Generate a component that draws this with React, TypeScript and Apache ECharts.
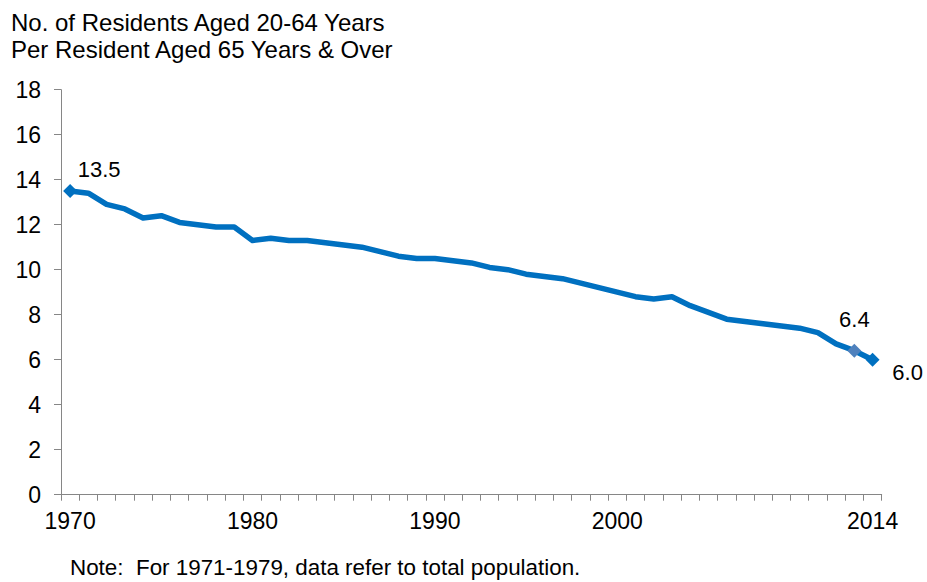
import React, { useEffect, useRef } from "react";
import * as echarts from "echarts";

const years: string[] = [
  "1970", "1971", "1972", "1973", "1974", "1975", "1976", "1977", "1978", "1979",
  "1980", "1981", "1982", "1983", "1984", "1985", "1986", "1987", "1988", "1989",
  "1990", "1991", "1992", "1993", "1994", "1995", "1996", "1997", "1998", "1999",
  "2000", "2001", "2002", "2003", "2004", "2005", "2006", "2007", "2008", "2009",
  "2010", "2011", "2012", "2013", "2014",
];

const supportRatio: number[] = [
  13.5, 13.4, 12.9, 12.7, 12.3, 12.4, 12.1, 12.0, 11.9, 11.9,
  11.3, 11.4, 11.3, 11.3, 11.2, 11.1, 11.0, 10.8, 10.6, 10.5,
  10.5, 10.4, 10.3, 10.1, 10.0, 9.8, 9.7, 9.6, 9.4, 9.2,
  9.0, 8.8, 8.7, 8.8, 8.4, 8.1, 7.8, 7.7, 7.6, 7.5,
  7.4, 7.2, 6.7, 6.4, 6.0,
];

const xLabelYears: string[] = ["1970", "1980", "1990", "2000", "2014"];
const labelledYears: string[] = ["1970", "2013", "2014"];

const yMin = 0;
const yMax = 18;
const yInterval = 2;

const titleLines: string[] = [
  "No. of Residents Aged 20-64 Years",
  "Per Resident Aged 65 Years & Over",
];
const noteText = "Note:  For 1971-1979, data refer to total population.";

const FONT = '"Liberation Sans", Arial, Helvetica, sans-serif';
const LINE_COLOR = "#0070C0";
const AXIS_COLOR = "#868686";

export default function App() {
  const ref = useRef<HTMLDivElement>(null);

  useEffect(() => {
    document.body.style.margin = "0";
    if (!ref.current) return;
    const chart = echarts.init(ref.current, null, { renderer: "svg" });

    const labelStyles: Record<string, any> = {
      "1970": { offset: [29, -21], color: LINE_COLOR },
      "2013": { offset: [0, -31], color: "#4F81BD" },
      "2014": { offset: [35, 13], color: LINE_COLOR },
    };

    const seriesData = supportRatio.map((v, i) => {
      const yr = years[i];
      if (labelledYears.indexOf(yr) >= 0) {
        const st = labelStyles[yr];
        return {
          value: v,
          symbol: "diamond",
          symbolSize: 14,
          itemStyle: { color: st.color, opacity: 1 },
          label: {
            show: true,
            position: "inside",
            offset: st.offset,
            formatter: (p: any) => Number(p.value).toFixed(1),
            color: "#000",
            fontSize: 22,
            fontFamily: FONT,
          },
        };
      }
      return { value: v };
    });

    chart.setOption({
      animation: false,
      backgroundColor: "#fff",
      grid: { left: 61, right: 45.3, top: 89.7, bottom: 87.3, containLabel: false },
      xAxis: {
        type: "category",
        data: years,
        boundaryGap: true,
        axisLine: { show: true, lineStyle: { color: AXIS_COLOR, width: 1 } },
        axisTick: { show: true, interval: 0, inside: false, length: 6, alignWithLabel: false, lineStyle: { color: AXIS_COLOR } },
        axisLabel: {
          interval: (idx: number, val: string) => xLabelYears.indexOf(val) >= 0,
          margin: 15,
          color: "#000",
          fontSize: 23,
          fontFamily: FONT,
        },
        splitLine: { show: false },
      },
      yAxis: {
        type: "value",
        min: yMin,
        max: yMax,
        interval: yInterval,
        axisLine: { show: true, lineStyle: { color: AXIS_COLOR, width: 1 } },
        axisTick: { show: true, inside: false, length: 7, lineStyle: { color: AXIS_COLOR } },
        axisLabel: { margin: 20, color: "#000", fontSize: 23, fontFamily: FONT },
        splitLine: { show: false },
      },
      graphic: [
        {
          type: "text",
          left: 11,
          top: 10,
          style: {
            text: titleLines[0],
            fontSize: 24,
            fontFamily: FONT,
            fill: "#000",
          },
        },
        {
          type: "text",
          left: 11,
          top: 37,
          style: {
            text: titleLines[1],
            fontSize: 24,
            fontFamily: FONT,
            fill: "#000",
          },
        },
        {
          type: "text",
          left: 70,
          top: 556,
          style: {
            text: noteText,
            fontSize: 22.4,
            fontFamily: FONT,
            fill: "#000",
          },
        },
      ],
      series: [
        {
          type: "line",
          data: seriesData,
          symbol: "none",
          showSymbol: true,
          showAllSymbol: true,
          lineStyle: { color: LINE_COLOR, width: 5.5, join: "round", cap: "round" },
          itemStyle: { color: LINE_COLOR },
          emphasis: { disabled: true },
          z: 2,
        },
      ],
    });

    return () => chart.dispose();
  }, []);

  return <div ref={ref} style={{ width: 927, height: 582 }} />;
}
